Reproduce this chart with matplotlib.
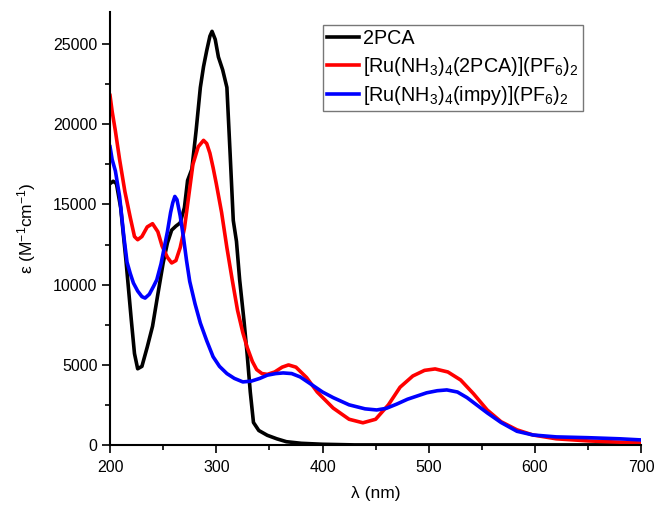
import numpy as np
import matplotlib.pyplot as plt
from matplotlib.ticker import MultipleLocator

plt.rcParams['font.family'] = ['Liberation Sans', 'DejaVu Sans']
plt.rcParams['mathtext.default'] = 'regular'

# 2PCA
wl_pca = [200, 203, 206, 210, 215, 220, 223, 226, 230, 235, 240, 245, 250, 254, 258, 262, 266,
          270, 273, 277, 281, 285, 288, 291, 294, 296, 299, 302, 306, 310, 313, 316, 319, 322,
          326, 329, 332, 335, 340, 348, 357, 366, 380, 400, 430, 500, 600, 700]
eps_pca = [16300, 16450, 16300, 14800, 11500, 7800, 5700, 4750, 4900, 6100, 7400, 9400, 11350, 12600,
           13400, 13650, 13850, 14800, 16500, 17200, 19600, 22300, 23600, 24600, 25500, 25800, 25300,
           24200, 23400, 22300, 18200, 14000, 12700, 10300, 7800, 5700, 3300, 1400, 900, 600, 380,
           200, 100, 40, 0, 0, 0, 0]

# [Ru(NH3)4(2PCA)](PF6)2
wl_ru1 = [200, 202, 205, 209, 214, 219, 223, 226, 230, 235, 240, 245, 249, 254, 258, 262, 266,
          270, 274, 278, 283, 288, 291, 294, 297, 300, 305, 310, 315, 320, 325, 329, 334, 338,
          343, 348, 355, 362, 368, 375, 385, 395, 410, 425, 438, 450, 462, 473, 485, 496, 506,
          518, 530, 542, 555, 568, 583, 598, 620, 650, 680, 700]
eps_ru1 = [21800, 20800, 19600, 17800, 15800, 14200, 13000, 12800, 13000, 13600, 13800, 13300, 12400,
           11700, 11350, 11500, 12300, 13500, 15500, 17500, 18600, 19000, 18800, 18200, 17300, 16300,
           14500, 12300, 10300, 8400, 7000, 6100, 5200, 4700, 4450, 4400, 4550, 4850, 4990, 4850,
           4200, 3300, 2300, 1600, 1380, 1600, 2500, 3600, 4300, 4650, 4740, 4550, 4050, 3200, 2180,
           1450, 940, 620, 380, 250, 170, 120]

# [Ru(NH3)4(impy)](PF6)2
wl_ru2 = [200, 202, 205, 209, 213, 216, 219, 222, 226, 230, 233, 237, 241, 244, 248, 251, 254,
          257, 259, 261, 263, 266, 269, 272, 275, 280, 285, 291, 297, 303, 310, 317, 325, 333,
          341, 348, 356, 363, 371, 379, 390, 400, 410, 425, 440, 451, 460, 470, 480, 489, 498,
          508, 517, 527, 536, 546, 555, 568, 583, 598, 620, 650, 680, 700]
eps_ru2 = [18600, 17800, 17100, 15500, 13000, 11400, 10700, 10100, 9600, 9250, 9160, 9400, 9900, 10300,
           11300, 12300, 13300, 14500, 15100, 15500, 15300, 14300, 13000, 11500, 10200, 8800, 7600,
           6500, 5500, 4900, 4450, 4150, 3930, 3980, 4150, 4350, 4450, 4490, 4450, 4240, 3750, 3300,
           2950, 2500, 2250, 2180, 2280, 2550, 2850, 3050, 3250, 3380, 3430, 3300, 2950, 2450, 2000,
           1400, 850, 620, 500, 450, 380, 310]

fig = plt.figure(figsize=(6.55, 5.05), dpi=100)
ax = fig.add_axes([0.168, 0.119, 0.811, 0.857])

ax.plot(wl_pca, eps_pca, color='black', lw=2.6, label='2PCA')
ax.plot(wl_ru1, eps_ru1, color='#ff0000', lw=2.6, label=r'[Ru(NH$_3$)$_4$(2PCA)](PF$_6$)$_2$')
ax.plot(wl_ru2, eps_ru2, color='#0000ff', lw=2.6, label=r'[Ru(NH$_3$)$_4$(impy)](PF$_6$)$_2$')

ax.set_xlim(200, 700)
ax.set_ylim(0, 27000)
ax.xaxis.set_major_locator(MultipleLocator(100))
ax.xaxis.set_minor_locator(MultipleLocator(50))
ax.yaxis.set_major_locator(MultipleLocator(5000))
ax.yaxis.set_minor_locator(MultipleLocator(2500))
ax.tick_params(which='major', direction='out', length=6, width=1.2, labelsize=11.5)
ax.tick_params(axis='x', which='major', pad=5)
ax.tick_params(axis='y', which='major', pad=3)
ax.tick_params(which='minor', direction='out', length=3.5, width=1.2)
for s in ['top', 'right']:
    ax.spines[s].set_visible(False)
for s in ['left', 'bottom']:
    ax.spines[s].set_linewidth(1.5)

ax.set_xlabel('λ (nm)', fontsize=12.5, labelpad=8)
ax.set_ylabel(r'ε (M$^{-1}$cm$^{-1}$)', fontsize=12.5, labelpad=11)

leg = ax.legend(loc='upper left', bbox_to_anchor=(0.401, 0.97), fontsize=14.2, frameon=True,
                fancybox=False, edgecolor='#555555', handlelength=1.6, handletextpad=0.25,
                borderpad=0.2, labelspacing=0.33, borderaxespad=0)
leg.get_frame().set_linewidth(1.0)

fig.savefig('out.png', dpi=100)
